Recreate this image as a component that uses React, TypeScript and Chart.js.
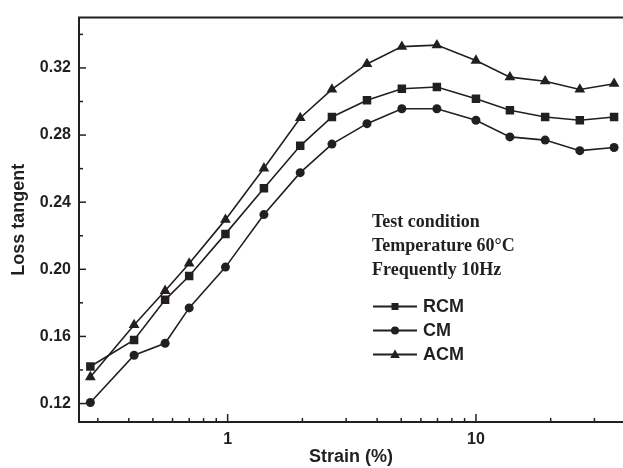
import React, { useEffect, useRef } from "react";
import { Chart, registerables } from "chart.js";

Chart.register(...registerables);

const strain = [0.28, 0.42, 0.56, 0.7, 0.98, 1.4, 1.96, 2.63, 3.64, 5.03, 6.96, 10.0, 13.7, 19.0, 26.2, 36.0];
const rcm = [0.1421, 0.1579, 0.1818, 0.196, 0.2211, 0.2483, 0.2736, 0.2908, 0.3007, 0.3076, 0.3086, 0.3016, 0.2948, 0.2908, 0.2888, 0.2908];
const cm = [0.1206, 0.1488, 0.1559, 0.177, 0.2013, 0.2326, 0.2576, 0.2746, 0.2868, 0.2957, 0.2957, 0.2888, 0.2789, 0.277, 0.2707, 0.2726];
const acm = [0.1358, 0.1668, 0.1872, 0.2035, 0.2296, 0.2602, 0.2902, 0.3072, 0.3224, 0.3327, 0.3336, 0.3244, 0.3145, 0.3121, 0.3072, 0.3106];

const yTicks = [0.12, 0.14, 0.16, 0.18, 0.2, 0.22, 0.24, 0.26, 0.28, 0.3, 0.32, 0.34];
const yLabeled = [0.12, 0.16, 0.2, 0.24, 0.28, 0.32];
const xTicks = [0.3, 0.4, 0.5, 0.6, 0.7, 0.8, 0.9, 1, 2, 3, 4, 5, 6, 7, 8, 9, 10, 20, 30];
const xLabeled = [1, 10];
const noteLines = ["Test condition", "Temperature 60°C", "Frequently 10Hz"];
const seriesNames = ["RCM", "CM", "ACM"];

const INK = "#231f20";
const SANS = "'Liberation Sans', Arial, sans-serif";
const SERIF = "'Liberation Serif', 'Times New Roman', serif";

const isLabeled = (arr: number[], v: number) => arr.some((a) => Math.abs(a - v) < 1e-6);

function marker(ctx: CanvasRenderingContext2D, kind: number, x: number, y: number) {
  ctx.beginPath();
  if (kind === 0) {
    ctx.rect(x - 3.5, y - 3.5, 7, 7);
  } else if (kind === 1) {
    ctx.arc(x, y, 4, 0, Math.PI * 2);
  } else {
    ctx.moveTo(x, y - 5);
    ctx.lineTo(x + 4.8, y + 3.5);
    ctx.lineTo(x - 4.8, y + 3.5);
    ctx.closePath();
  }
  ctx.fill();
}

const decorPlugin = {
  id: "decor",
  afterDraw(chart: any) {
    const { ctx, chartArea } = chart;
    const xs = chart.scales.x;
    const ys = chart.scales.y;
    ctx.save();
    ctx.strokeStyle = INK;
    ctx.fillStyle = INK;
    ctx.lineWidth = 2;
    ctx.beginPath();
    ctx.moveTo(chartArea.left - 1, chartArea.top);
    ctx.lineTo(chartArea.right, chartArea.top);
    ctx.stroke();
    ctx.lineWidth = 1.5;
    yTicks.forEach((v) => {
      const y = ys.getPixelForValue(v);
      const len = isLabeled(yLabeled, v) ? 7 : 4;
      ctx.beginPath();
      ctx.moveTo(chartArea.left, y);
      ctx.lineTo(chartArea.left + len, y);
      ctx.stroke();
    });
    xTicks.forEach((v) => {
      const x = xs.getPixelForValue(v);
      const len = isLabeled(xLabeled, v) ? 8 : 4;
      ctx.beginPath();
      ctx.moveTo(x, chartArea.bottom);
      ctx.lineTo(x, chartArea.bottom - len);
      ctx.stroke();
    });
    ctx.font = `bold 18px ${SERIF}`;
    ctx.textAlign = "left";
    ctx.textBaseline = "alphabetic";
    noteLines.forEach((t, i) => {
      ctx.fillText(t, 372, 227 + i * 24);
    });
    seriesNames.forEach((name, i) => {
      const y = 306.5 + i * 24;
      ctx.lineWidth = 1.8;
      ctx.beginPath();
      ctx.moveTo(373, y);
      ctx.lineTo(417, y);
      ctx.stroke();
      marker(ctx, i, 395, y);
      ctx.font = `bold 18px ${SANS}`;
      ctx.textBaseline = "middle";
      ctx.fillText(name, 423, y + 0.5);
    });
    ctx.restore();
  },
};

export default function App() {
  const ref = useRef<HTMLCanvasElement>(null);
  useEffect(() => {
    if (!ref.current) return;
    const mk = (label: string, data: number[], style: string, r: number) => ({
      label,
      data: strain.map((x, i) => ({ x, y: data[i] })),
      borderColor: INK,
      backgroundColor: INK,
      borderWidth: 1.6,
      pointStyle: style,
      pointRadius: r,
      pointBorderWidth: 0,
      pointBackgroundColor: INK,
      tension: 0,
    });
    const chart = new Chart(ref.current, {
      type: "line",
      data: {
        datasets: [
          mk("RCM", rcm, "rect", 6),
          mk("CM", cm, "circle", 4.5),
          mk("ACM", acm, "triangle", 6.2),
        ],
      },
      options: {
        animation: false,
        responsive: false,
        layout: { autoPadding: false, padding: { top: 15, right: 0, left: 0, bottom: 0 } },
        plugins: { legend: { display: false }, tooltip: { enabled: false } },
        scales: {
          x: {
            type: "logarithmic",
            min: 0.252,
            max: 39.1,
            grid: { display: false, drawTicks: false },
            border: { display: true, color: INK, width: 2 },
            afterBuildTicks: (s: any) => {
              s.ticks = xTicks.map((v) => ({ value: v }));
            },
            afterFit: (s: any) => {
              s.height = 46;
            },
            ticks: {
              autoSkip: false,
              maxRotation: 0,
              padding: 8,
              color: INK,
              font: { family: SANS, size: 16, weight: "bold" },
              callback: (v: any) => (isLabeled(xLabeled, Number(v)) ? String(v) : ""),
            },
            title: {
              display: true,
              text: "Strain (%)",
              color: INK,
              font: { family: SANS, size: 18, weight: "bold" },
              padding: { top: 0, bottom: 0 },
            },
          },
          y: {
            min: 0.109,
            max: 0.35,
            grid: { display: false, drawTicks: false },
            border: { display: true, color: INK, width: 2 },
            afterBuildTicks: (s: any) => {
              s.ticks = yTicks.map((v) => ({ value: v }));
            },
            afterFit: (s: any) => {
              s.width = 79;
            },
            ticks: {
              autoSkip: false,
              padding: 8,
              color: INK,
              font: { family: SANS, size: 16, weight: "bold" },
              callback: (v: any) => (isLabeled(yLabeled, Number(v)) ? Number(v).toFixed(2) : ""),
            },
            title: {
              display: true,
              text: "Loss tangent",
              color: INK,
              font: { family: SANS, size: 18, weight: "bold" },
              padding: { top: 8, bottom: 0 },
            },
          },
        },
      },
      plugins: [decorPlugin],
    } as any);
    return () => chart.destroy();
  }, []);
  return (
    <div style={{ position: "absolute", left: 0, top: 0, width: 623, height: 468 }}>
      <canvas ref={ref} width={623} height={468} style={{ display: "block" }} />
    </div>
  );
}
